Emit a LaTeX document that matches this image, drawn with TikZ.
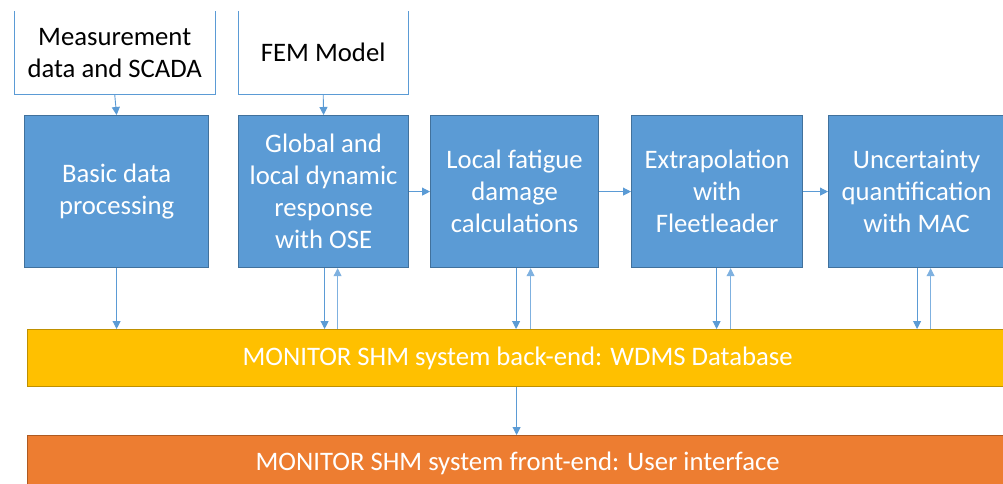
\documentclass[tikz,border=0pt]{standalone}
\usepackage{fontspec}
\setmainfont{Carlito}
\usetikzlibrary{arrows.meta}
\definecolor{bfill}{HTML}{5B9BD5}
\definecolor{bdraw}{HTML}{41719C}
\definecolor{yfill}{HTML}{FFC000}
\definecolor{ydraw}{HTML}{BF9000}
\definecolor{ofill}{HTML}{ED7D31}
\definecolor{odraw}{HTML}{AE5A21}
\definecolor{arrc}{HTML}{5B9BD5}
\definecolor{arrup}{HTML}{7FB1E0}
\begin{document}
\begin{tikzpicture}[x=1pt,y=-1pt,
  every node/.style={font=\fontsize{26.7}{32}\selectfont, align=center, inner sep=0pt, anchor=north west},
  topbox/.style={draw=none, text=black},
  bluebox/.style={fill=bfill, draw=bdraw, line width=1.2pt, text=white},
  ybar/.style={fill=yfill, draw=ydraw, line width=1.2pt, text=white},
  obar/.style={fill=ofill, draw=odraw, line width=1.2pt, text=white},
  arr/.style={draw=arrc, line width=0.9pt, -{Triangle[width=8pt,length=8pt]}},
  arru/.style={draw=arrup, line width=0.9pt, -{Triangle[width=8pt,length=8pt]}},
  tborder/.style={draw=arrc, line width=1pt}]
\clip (0,0) rectangle (1003,484);
\fill[white] (0,0) rectangle (1003,484);
% top boxes
\node[topbox, minimum width=201pt, minimum height=83pt] (meas) at (14,11) {Measurement\\data and SCADA};
\node[topbox, minimum width=170pt, minimum height=83pt] (fem) at (238,11) {FEM Model};
\draw[tborder] (meas.north west) -- (meas.south west) -- (meas.south east) -- (meas.north east);
\draw[tborder] (fem.north west) -- (fem.south west) -- (fem.south east) -- (fem.north east);
% blue boxes
\node[bluebox, minimum width=184pt, minimum height=152pt] (b1) at (24,115) {Basic data\\processing};
\node[bluebox, minimum width=170pt, minimum height=152pt] (b2) at (238,115) {Global and\\local dynamic\\response\\with OSE};
\node[bluebox, minimum width=168pt, minimum height=152pt] (b3) at (430,115) {Local fatigue\\damage\\calculations};
\node[bluebox, minimum width=171pt, minimum height=152pt] (b4) at (631,115) {Extrapolation\\with\\Fleetleader};
\node[bluebox, minimum width=176pt, minimum height=152pt] (b5) at (828,115) {Uncertainty\\quantification\\with MAC};
% bars
\node[ybar, minimum width=980pt, minimum height=57pt] (back) at (27,329) {MONITOR SHM system back-end: WDMS Database};
\node[obar, minimum width=980pt, minimum height=56pt] (front) at (27,435) {MONITOR SHM system front-end: User interface};
% arrows
\draw[arr] (meas.south) -- (b1.north);
\draw[arr] (fem.south) -- (b2.north);
\draw[arr] (b2.east) -- (b3.west);
\draw[arr] (b3.east) -- (b4.west);
\draw[arr] (b4.east) -- (b5.west);
\draw[arr] (b1.south) -- (b1.south |- back.north);
\foreach \b/\d/\u in {b2/1/14, b3/1.5/16, b4/-0.5/13.5, b5/0.5/14}{
  \draw[arr] ([xshift=\d pt]\b.south) -- ([xshift=\d pt]\b.south |- back.north);
  \draw[arru] ([xshift=\u pt]\b.south |- back.north) -- ([xshift=\u pt]\b.south);
}
\draw[arr] ([xshift=-1pt]back.south) -- ([xshift=-1pt]front.north);
\end{tikzpicture}
\end{document}
